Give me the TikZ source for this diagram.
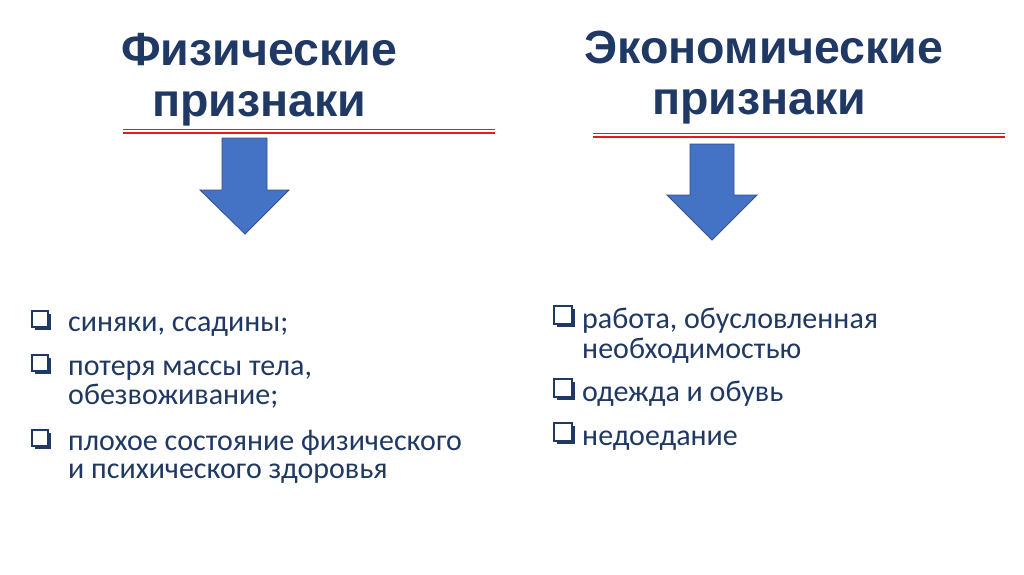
\documentclass[tikz,border=0pt]{standalone}
\usepackage{fontspec}
\setmainfont{Carlito}
\newfontfamily\titlefont{Liberation Sans}
\definecolor{navy}{HTML}{1F3864}
\definecolor{arrowblue}{HTML}{4472C4}
\definecolor{arrowline}{HTML}{2F528F}
\definecolor{redline}{HTML}{E8191F}
\tikzset{
  titletext/.style={anchor=base, inner sep=0pt, text=navy, font=\titlefont\bfseries\fontsize{46.5}{50}\selectfont},
  bodytext/.style={anchor=base west, inner sep=0pt, text=navy, font=\fontsize{30}{30}\selectfont},
  bigarrow/.style={fill=arrowblue, draw=arrowline, line width=0.8pt, line join=miter},
  redrule/.style={draw=redline, line width=1.6pt},
}
% #1 = x left, #2 = text baseline, #3 = box size
\newcommand{\chkbox}[3]{%
  \fill[navy] (#1+3,#2-#3-1) rectangle (#1+#3+3,#2-1);
  \filldraw[fill=white, draw=navy, line width=1.2pt] (#1,#2-#3-4) rectangle (#1+#3,#2-4);
}
\begin{document}
\begin{tikzpicture}[x=1pt,y=-1pt]
\useasboundingbox[fill=white] (0,0) rectangle (1024,574);

% titles
\node[titletext] (t1a) at (259,65) {Физические};
\node[titletext] (t1b) at (259,116) {признаки};
\node[titletext] (t2a) at (764,63) {Экономические};
\node[titletext] (t2b) at (759,114) {признаки};

% red double rules
\draw[redrule] (123,129.3) -- (495,129.3);
\draw[redrule] (123,133.2) -- (495,133.2);
\draw[redrule] (593,133.3) -- (1005,133.3);
\draw[redrule] (593,137.2) -- (1005,137.2);

% block arrows
\filldraw[bigarrow] (222,138) -- (267,138) -- (267,190) -- (289,190) -- (245,234)
  -- (200,190) -- (222,190) -- cycle;
\filldraw[bigarrow] (690,144) -- (734,144) -- (734,195) -- (757,195) -- (712,240)
  -- (667,195) -- (690,195) -- cycle;

% left list
\chkbox{32}{331}{16}
\node[bodytext] (l1) at (68,331) {синяки, ссадины;};
\chkbox{32}{375}{16}
\node[bodytext] (l2a) at (68,375) {потеря массы тела,};
\node[bodytext] (l2b) at (68,404) {обезвоживание;};
\chkbox{32}{450}{16}
\node[bodytext] (l3a) at (68,450) {плохое состояние физического};
\node[bodytext] (l3b) at (68,478) {и психического здоровья};

% right list
\chkbox{554}{328}{18}
\node[bodytext] (r1a) at (582,328) {работа, обусловленная};
\node[bodytext] (r1b) at (582,358) {необходимостью};
\chkbox{554}{401}{18}
\node[bodytext] (r2) at (582,401) {одежда и обувь};
\chkbox{554}{445}{18}
\node[bodytext] (r3) at (582,445) {недоедание};
\end{tikzpicture}
\end{document}
